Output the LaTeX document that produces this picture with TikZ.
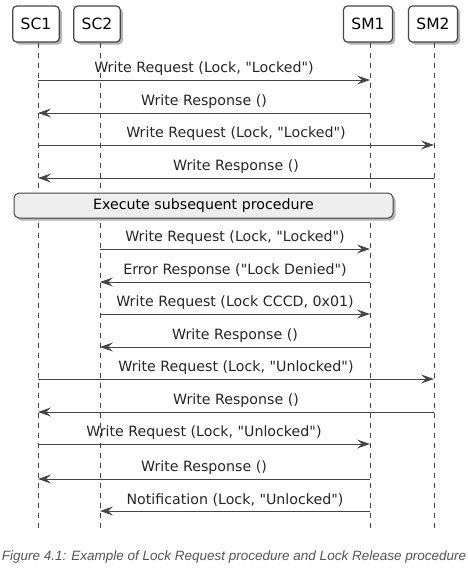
\documentclass[tikz,border=0pt]{standalone}
\usepackage{fontspec}
\setmainfont{DejaVu Sans}
\newfontfamily\capfont{Liberation Sans}
\usetikzlibrary{arrows.meta,shadows}
\definecolor{linegray}{HTML}{454545}
\definecolor{notegray}{HTML}{EEEEEE}
\definecolor{capgray}{HTML}{555555}
\newcommand{\dq}{\textquotedbl}

\begin{document}
\begin{tikzpicture}[x=1pt,y=-1pt,
		part/.style={draw=linegray,line width=1.2pt,rounded corners=4pt,fill=white,
			minimum width=46pt,minimum height=36pt,inner xsep=8pt,
			font=\fontsize{15.5}{18}\selectfont,
			drop shadow={shadow xshift=2.5pt,shadow yshift=-2.5pt,fill=black,opacity=.3}},
		note/.style={draw=linegray,line width=1pt,rounded corners=5pt,fill=notegray,
			font=\fontsize{14.2}{16}\selectfont,
			drop shadow={shadow xshift=2.5pt,shadow yshift=-2.5pt,fill=black,opacity=.3}},
		life/.style={draw=linegray,dash pattern=on 5pt off 5pt,line width=.8pt},
		msg/.style={draw=linegray,line width=1pt,-{Stealth[length=13pt,width=9pt,inset=5pt]}},
		lbl/.style={above=4pt,inner sep=0pt,font=\fontsize{14.2}{16}\selectfont,text=black!85}]
		\def\ytop{43}
		\def\yend{532}
		\useasboundingbox (0,0) rectangle (468,576);
		% participants
		\node[part] (sc1) at (36,24) {SC1};
		\node[part] (sc2) at (97,24) {SC2};
		\node[part] (sm1) at (368,24) {SM1};
		\node[part] (sm2) at (433,24) {SM2};
		\coordinate (sc1l) at (38,\ytop);
		\coordinate (sc2l) at (100,\ytop);
		\coordinate (sm1l) at (370,\ytop);
		\coordinate (sm2l) at (434,\ytop);
		% lifelines
		\draw[life] (sc1l) -- (sc1l |- 0,\yend);
		\draw[life] (sc2l) -- (sc2l |- 0,\yend);
		\draw[life] (sm1l) -- (sm1l |- 0,\yend);
		\draw[life] (sm2l) -- (sm2l |- 0,\yend);
		% lock request
		\draw[msg] (sc1l |- 0,80) -- node[lbl] {Write Request (Lock, \dq Locked\dq)} (sm1l |- 0,80);
		\draw[msg] (sm1l |- 0,113) -- node[lbl] {Write Response ()} (sc1l |- 0,113);
		\draw[msg] (sc1l |- 0,145) -- node[lbl] {Write Request (Lock, \dq Locked\dq)} (sm2l |- 0,145);
		\draw[msg] (sm2l |- 0,178) -- node[lbl] {Write Response ()} (sc1l |- 0,178);
		\node[note,minimum width=379pt,minimum height=25pt] (exec) at (203.5,205.5) {Execute subsequent procedure};
		\draw[msg] (sc2l |- 0,249) -- node[lbl] {Write Request (Lock, \dq Locked\dq)} (sm1l |- 0,249);
		\draw[msg] (sm1l |- 0,282) -- node[lbl] {Error Response (\dq Lock Denied\dq)} (sc2l |- 0,282);
		\draw[msg] (sc2l |- 0,314) -- node[lbl] {Write Request (Lock CCCD, 0x01)} (sm1l |- 0,314);
		\draw[msg] (sm1l |- 0,347) -- node[lbl] {Write Response ()} (sc2l |- 0,347);
		% lock release
		\draw[msg] (sc1l |- 0,379) -- node[lbl] {Write Request (Lock, \dq Unlocked\dq)} (sm2l |- 0,379);
		\draw[msg] (sm2l |- 0,412) -- node[lbl] {Write Response ()} (sc1l |- 0,412);
		\draw[msg] (sc1l |- 0,444) -- node[lbl] {Write Request (Lock, \dq Unlocked\dq)} (sm1l |- 0,444);
		\draw[msg] (sm1l |- 0,479) -- node[lbl] {Write Response ()} (sc1l |- 0,479);
		\draw[msg] (sm1l |- 0,511) -- node[lbl] {Notification (Lock, \dq Unlocked\dq)} (sc2l |- 0,511);
		% caption
		\node[font=\capfont\itshape\fontsize{13.5}{16}\selectfont,text=capgray] (cap) at (234,557)
			{Figure 4.1: Example of Lock Request procedure and Lock Release procedure};
	\end{tikzpicture}
\end{document}
